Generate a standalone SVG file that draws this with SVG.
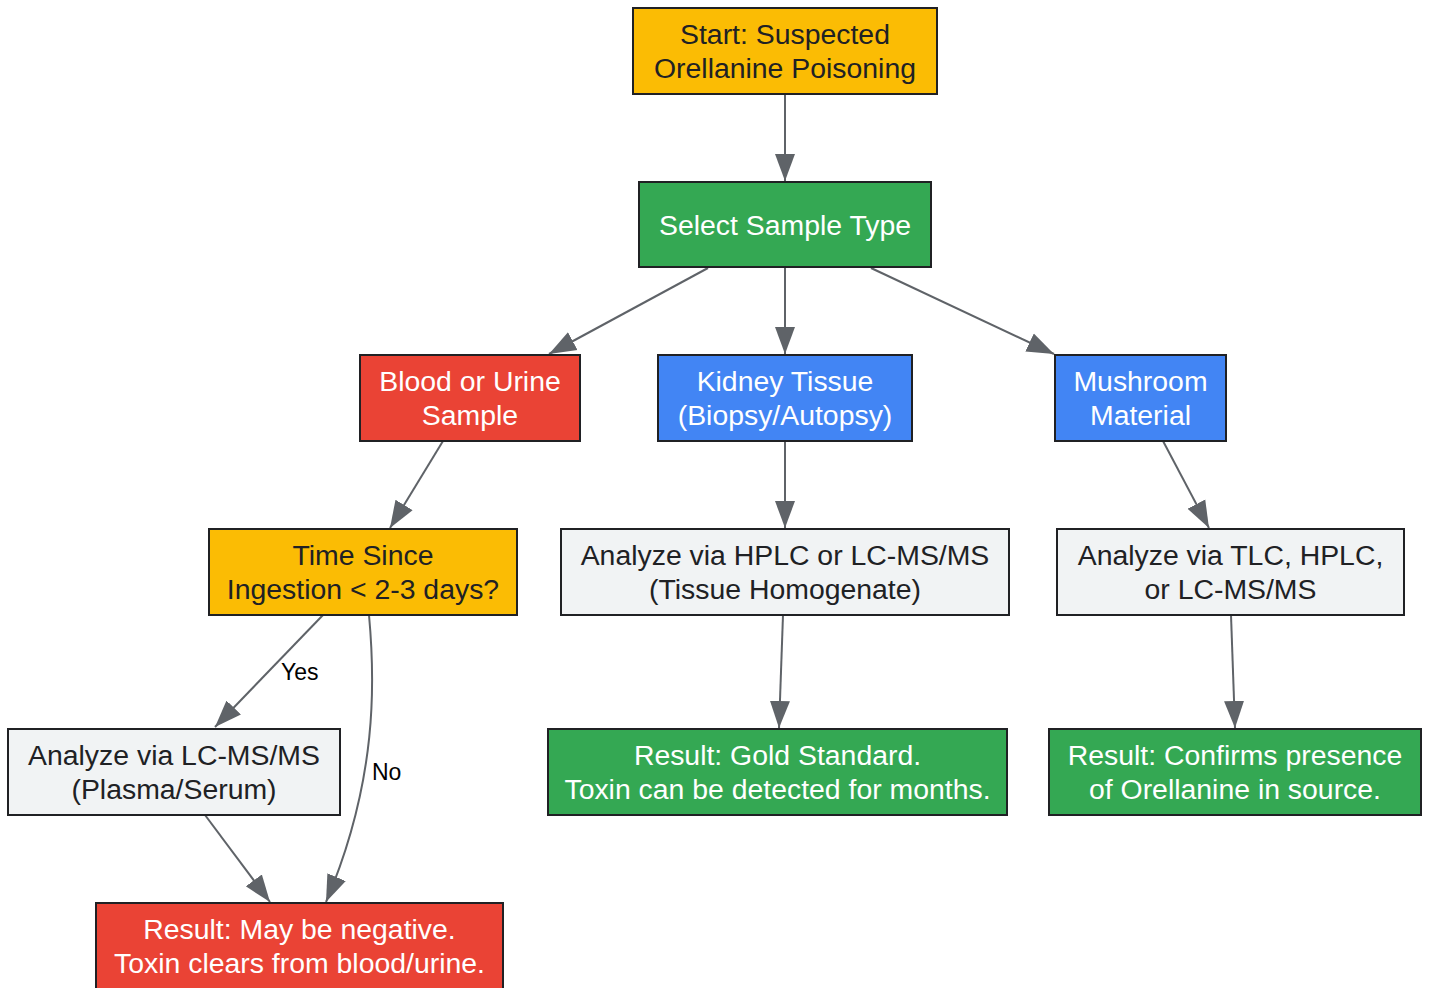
<svg xmlns="http://www.w3.org/2000/svg" width="1430" height="988" viewBox="0 0 1430 988">
<defs>
<marker id="ah" markerUnits="userSpaceOnUse" markerWidth="28" markerHeight="22" viewBox="0 0 28 22" refX="27" refY="11" orient="auto">
<path d="M0,1 L27,11 L0,21 Z" fill="#5F6368"/>
</marker>
<style>
.n rect{stroke:#202124;stroke-width:2}
.n text{font-family:"Liberation Sans",Arial,sans-serif;font-size:28.4px;text-anchor:middle}
.y rect{fill:#FBBC04}.y text{fill:#202124}
.g rect{fill:#34A853}.g text{fill:#FFFFFF}
.r rect{fill:#EA4335}.r text{fill:#FFFFFF}
.b rect{fill:#4285F4}.b text{fill:#FFFFFF}
.w rect{fill:#F1F3F4}.w text{fill:#202124}
.e path{fill:none;stroke:#5F6368;stroke-width:2;marker-end:url(#ah)}
.lbl{font-family:"Liberation Sans",Arial,sans-serif;font-size:23px;fill:#000}
</style>
</defs>
<rect width="1430" height="988" fill="#FFFFFF"/>
<g id="edges" class="e">
<path d="M785,94 L785,181"/>
<path d="M708,268 L549,354"/>
<path d="M785,268 L785,354"/>
<path d="M871,268 L1054,354"/>
<path d="M443,441 L390,528"/>
<path d="M785,441 L785,528"/>
<path d="M1163,441 L1209,528"/>
<path d="M323,615 L215,727"/>
<path d="M369,615 C375,680 378,780 326,902"/>
<path d="M205,815 L270,902"/>
<path d="M783,615 L779,728"/>
<path d="M1231,615 L1235,728"/>
<text class="lbl" x="281" y="680">Yes</text>
<text class="lbl" x="372" y="780">No</text>
</g>
<g id="start" class="n y"><rect x="633" y="8" width="304" height="86"/><text x="785" y="44">Start: Suspected</text><text x="785" y="78">Orellanine Poisoning</text></g>
<g id="select" class="n g"><rect x="639" y="182" width="292" height="85"/><text x="785" y="235">Select Sample Type</text></g>
<g id="blood" class="n r"><rect x="360" y="355" width="220" height="86"/><text x="470" y="391">Blood or Urine</text><text x="470" y="425">Sample</text></g>
<g id="kidney" class="n b"><rect x="658" y="355" width="254" height="86"/><text x="785" y="391">Kidney Tissue</text><text x="785" y="425">(Biopsy/Autopsy)</text></g>
<g id="mushroom" class="n b"><rect x="1055" y="355" width="171" height="86"/><text x="1140.5" y="391">Mushroom</text><text x="1140.5" y="425">Material</text></g>
<g id="time" class="n y"><rect x="209" y="529" width="308" height="86"/><text x="363" y="565">Time Since</text><text x="363" y="599">Ingestion &lt; 2-3 days?</text></g>
<g id="hplc" class="n w"><rect x="561" y="529" width="448" height="86"/><text x="785" y="565">Analyze via HPLC or LC-MS/MS</text><text x="785" y="599">(Tissue Homogenate)</text></g>
<g id="tlc" class="n w"><rect x="1057" y="529" width="347" height="86"/><text x="1230.5" y="565">Analyze via TLC, HPLC,</text><text x="1230.5" y="599">or LC-MS/MS</text></g>
<g id="lcms" class="n w"><rect x="8" y="729" width="332" height="86"/><text x="174" y="765">Analyze via LC-MS/MS</text><text x="174" y="799">(Plasma/Serum)</text></g>
<g id="gold" class="n g"><rect x="548" y="729" width="459" height="86"/><text x="777.5" y="765">Result: Gold Standard.</text><text x="777.5" y="799">Toxin can be detected for months.</text></g>
<g id="confirms" class="n g"><rect x="1049" y="729" width="372" height="86"/><text x="1235" y="765">Result: Confirms presence</text><text x="1235" y="799">of Orellanine in source.</text></g>
<g id="negative" class="n r"><rect x="96" y="903" width="407" height="95"/><text x="299.5" y="939">Result: May be negative.</text><text x="299.5" y="973">Toxin clears from blood/urine.</text></g>
</svg>
